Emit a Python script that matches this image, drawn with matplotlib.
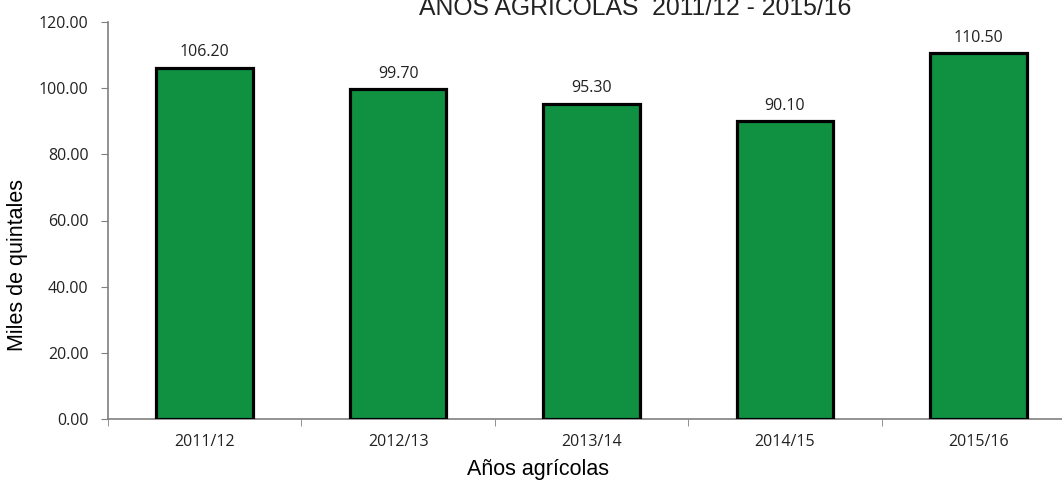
import numpy as np
import matplotlib.pyplot as plt

# producción anual (miles de quintales)
years = ["2011/12", "2012/13", "2013/14", "2014/15", "2015/16"]
values = [106.20, 99.70, 95.30, 90.10, 110.50]

fig = plt.figure(figsize=(10.62, 4.8), dpi=100)
ax = fig.add_axes([108/1062, 61/480, 967/1062, 397/480])

x = np.arange(len(years))
ax.bar(x, values, width=0.5, color="#109142", edgecolor="black", linewidth=2.3, zorder=3)

for xi, v in zip(x, values):
    ax.text(xi, v + 3.4, f"{v:.2f}", ha="center", va="baseline", fontsize=11.5,
            color="#222222", family="Open Sans")

ax.set_xlim(-0.5, 4.5)
ax.set_ylim(0, 120)
ax.set_yticks(np.arange(0, 121, 20))
ax.set_yticklabels([f"{t:.2f}" for t in np.arange(0, 121, 20)], family="Open Sans", fontsize=11.5, color="#222222")
ax.set_xticks(x)
ax.set_xticklabels(years, family="Open Sans", fontsize=11.5, color="#222222")
ax.set_xticks(np.arange(-0.5, 5, 1), minor=True)
ax.tick_params(axis="x", which="major", length=0, pad=11)
ax.tick_params(axis="x", which="minor", length=5, color="#808080", direction="out")
ax.tick_params(axis="y", length=5, color="#808080", direction="out", pad=9)

for s in ["top", "right"]:
    ax.spines[s].set_visible(False)
for s in ["left", "bottom"]:
    ax.spines[s].set_color("#808080")
    ax.spines[s].set_linewidth(1.2)

ax.set_xlabel("Años agrícolas", family="Liberation Sans", fontsize=15.5)
ax.xaxis.set_label_coords((538 - 108) / 967, -(470 - 419) / 397)
ax.xaxis.label.set_va("center")
ax.set_ylabel("Miles de quintales", family="Liberation Sans", fontsize=15.5)
ax.yaxis.set_label_coords(-(108 - 18) / 967, (419 - 265) / 397)
ax.yaxis.label.set_va("center")

fig.text(635/1062, 1 - 15/480, "AÑOS AGRÍCOLAS  2011/12 - 2015/16", ha="center", va="baseline",
         family="Liberation Sans", fontsize=17.8, color="#222222")

fig.savefig("out.png", dpi=100)
